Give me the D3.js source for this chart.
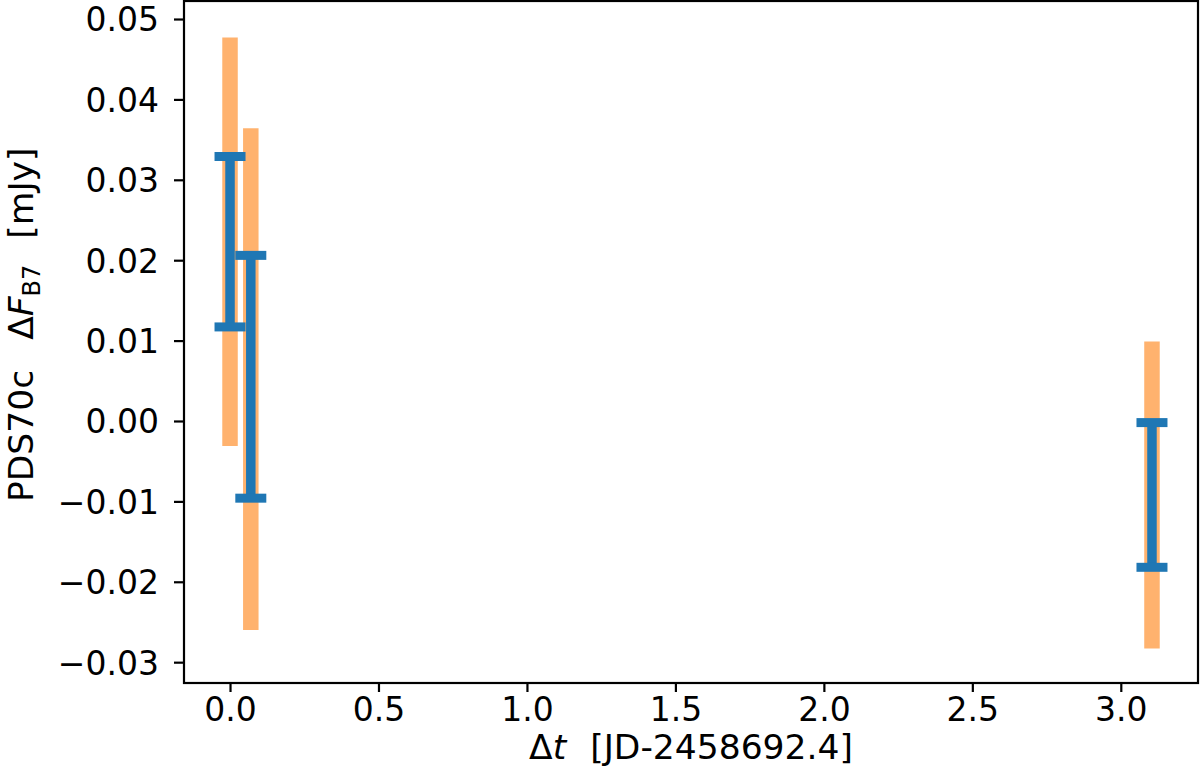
<!DOCTYPE html>
<html><head><meta charset="utf-8">
<script src="https://cdn.jsdelivr.net/npm/d3@7"></script>
<style>body{margin:0;background:#fff}svg{display:block}text{font-family:"DejaVu Sans",sans-serif;fill:#000}</style>
</head><body>
<script>
const times = [0.0, 0.07, 3.105];
const fluxBlue = [0.0223, 0.0055, -0.0092];
const errBlue = [0.0106, 0.0151, 0.0090];
const fluxOrange = [0.0223, 0.0052, -0.0092];
const errOrange = [0.0254, 0.0312, 0.0191];
const xTicks = [0.0, 0.5, 1.0, 1.5, 2.0, 2.5, 3.0];
const yTicks = [-0.03, -0.02, -0.01, 0.00, 0.01, 0.02, 0.03, 0.04, 0.05];

const W = 1200, H = 776;
const L = 184, R = 1198, T = 1, B = 683;
const FS = 33, LFS = 34.5;
const svg = d3.select("body").append("svg").attr("width", W).attr("height", H);
const x = d3.scaleLinear().domain([-0.155, 3.26]).range([L, R]);
const y = d3.scaleLinear().domain([-0.03259, 0.05224]).range([B, T]);

const fmtY = v => (v < 0 ? "\u2212" : "") + Math.abs(v).toFixed(2);

// orange error bars
svg.append("g").selectAll("line").data(times).join("line")
  .attr("x1", (d) => x(d)).attr("x2", (d) => x(d))
  .attr("y1", (d, i) => y(fluxOrange[i] + errOrange[i]))
  .attr("y2", (d, i) => y(fluxOrange[i] - errOrange[i]))
  .attr("stroke", "#ff7f0e").attr("stroke-opacity", 0.6).attr("stroke-width", 15.5);

// blue error bars
const gb = svg.append("g");
gb.selectAll("line.stem").data(times).join("line").attr("class", "stem")
  .attr("x1", (d) => x(d)).attr("x2", (d) => x(d))
  .attr("y1", (d, i) => y(fluxBlue[i] + errBlue[i]))
  .attr("y2", (d, i) => y(fluxBlue[i] - errBlue[i]))
  .attr("stroke", "#1f77b4").attr("stroke-width", 9.5);
[1, -1].forEach(s => {
  gb.selectAll("line.cap" + (s > 0 ? "t" : "b")).data(times).join("line")
    .attr("class", "cap" + (s > 0 ? "t" : "b"))
    .attr("x1", (d) => x(d) - 15.5).attr("x2", (d) => x(d) + 15.5)
    .attr("y1", (d, i) => y(fluxBlue[i] + s * errBlue[i]))
    .attr("y2", (d, i) => y(fluxBlue[i] + s * errBlue[i]))
    .attr("stroke", "#1f77b4").attr("stroke-width", 9);
});

// axes
const xAxis = d3.axisBottom(x).tickValues(xTicks).tickFormat(d3.format(".1f")).tickSize(9).tickPadding(6);
const gx = svg.append("g").attr("transform", `translate(0,${B})`).call(xAxis);
gx.select(".domain").remove();
gx.selectAll("line").attr("stroke-width", 2.2);
gx.selectAll("text").attr("font-size", FS).attr("font-family", "DejaVu Sans");

const yAxis = d3.axisLeft(y).tickValues(yTicks).tickFormat(fmtY).tickSize(10).tickPadding(15);
const gy = svg.append("g").attr("transform", `translate(${L},0)`).call(yAxis);
gy.select(".domain").remove();
gy.selectAll("line").attr("stroke-width", 2.2);
gy.selectAll("text").attr("font-size", FS).attr("font-family", "DejaVu Sans").attr("dy", "0.36em");

svg.append("rect").attr("x", L).attr("y", T).attr("width", R - L).attr("height", B - T)
  .attr("fill", "none").attr("stroke", "#000").attr("stroke-width", 2.2);

// x label
const xl = svg.append("text").attr("x", (L + R) / 2).attr("y", 759).attr("text-anchor", "middle").attr("font-size", LFS);
xl.append("tspan").text("\u0394");
xl.append("tspan").attr("font-style", "italic").text("t");
xl.append("tspan").attr("dx", 24).text("[JD-2458692.4]");

// y label
const yl = svg.append("text").attr("transform", "translate(33,502) rotate(-90)").attr("font-size", LFS);
yl.append("tspan").text("PDS70c");
yl.append("tspan").attr("dx", 30).text("\u0394");
yl.append("tspan").attr("font-style", "italic").text("F");
yl.append("tspan").attr("font-size", 24).attr("dy", 7).text("B7");
yl.append("tspan").attr("dy", -7).attr("dx", 26).text("[mJy]");
</script>
</body></html>
